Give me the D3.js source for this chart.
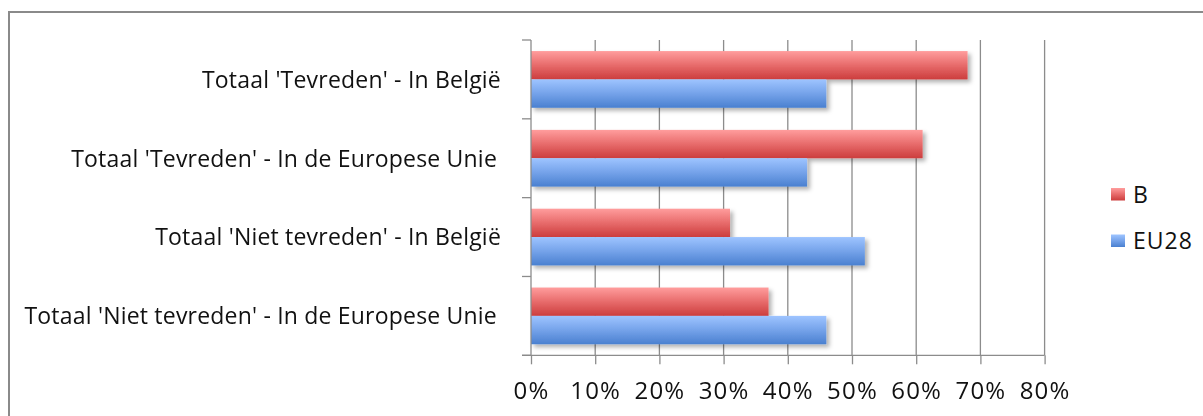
<!DOCTYPE html>
<html>
<head>
<meta charset="utf-8">
<script src="https://cdn.jsdelivr.net/npm/d3@7"></script>
<style>
  html, body { margin: 0; padding: 0; background: #fff; }
  svg { display: block; }
  text { font-family: "Open Sans", Lato, sans-serif; fill: #111; }
</style>
</head>
<body>
<script>
// Satisfaction figures, Belgium vs EU28
const categories = [
  "Totaal 'Tevreden' - In België",
  "Totaal 'Tevreden' - In de Europese Unie",
  "Totaal 'Niet tevreden' - In België",
  "Totaal 'Niet tevreden' - In de Europese Unie"
];
const seriesNames = ["B", "EU28"];
const valuesB    = [0.68, 0.61, 0.31, 0.37];
const valuesEU28 = [0.46, 0.43, 0.52, 0.46];
const xTicks = [0, 0.1, 0.2, 0.3, 0.4, 0.5, 0.6, 0.7, 0.8];

const W = 1203, H = 416;
const plot = { left: 531, right: 1044.6, top: 40, bottom: 355.3 };

const svg = d3.select("body").append("svg").attr("width", W).attr("height", H);
const defs = svg.append("defs");

// Glossy vertical gradients for the bars and legend keys
function grad(id, top, mid, bottom) {
  const g = defs.append("linearGradient").attr("id", id)
    .attr("x1", 0).attr("y1", 0).attr("x2", 0).attr("y2", 1);
  g.append("stop").attr("offset", "0%").attr("stop-color", top);
  g.append("stop").attr("offset", "45%").attr("stop-color", mid);
  g.append("stop").attr("offset", "100%").attr("stop-color", bottom);
}
grad("gB", "#ff9d9d", "#ea7070", "#cc3d3d");
grad("gEU", "#9ec4ff", "#79a6ec", "#4a80d0");

const shadow = defs.append("filter").attr("id", "shadow")
  .attr("x", "-5%").attr("y", "-30%").attr("width", "115%").attr("height", "180%");
shadow.append("feDropShadow").attr("dx", 3).attr("dy", 3)
  .attr("stdDeviation", 2.2).attr("flood-color", "#000").attr("flood-opacity", 0.3);

// Chart area frame
svg.append("rect").attr("x", 9).attr("y", 12).attr("width", W + 20).attr("height", H + 20)
  .attr("fill", "#fff").attr("stroke", "#8a8a8a").attr("stroke-width", 2);

const x = d3.scaleLinear().domain([0, 0.8]).range([plot.left, plot.right]);
const y = d3.scaleBand().domain(categories).range([plot.top, plot.bottom]).paddingInner(0).paddingOuter(0);
const sub = d3.scaleBand().domain(seriesNames).range([0, y.bandwidth()]).paddingOuter(0.39).paddingInner(0);

// Vertical gridlines
svg.append("g").selectAll("line").data(xTicks.slice(1)).join("line")
  .attr("x1", d => x(d)).attr("x2", d => x(d))
  .attr("y1", plot.top).attr("y2", plot.bottom)
  .attr("stroke", "#8c8c8c").attr("stroke-width", 1.3);

// Bars
const rows = categories.map((c, i) => ({ c, B: valuesB[i], EU28: valuesEU28[i] }));
const fills = { B: "url(#gB)", EU28: "url(#gEU)" };
svg.append("g").attr("filter", "url(#shadow)")
  .selectAll("g").data(rows).join("g")
  .attr("transform", d => `translate(0,${y(d.c)})`)
  .selectAll("rect").data(d => seriesNames.map(s => ({ s, v: d[s] }))).join("rect")
  .attr("x", x(0)).attr("y", d => sub(d.s))
  .attr("width", d => x(d.v) - x(0)).attr("height", sub.bandwidth())
  .attr("fill", d => fills[d.s]);

// Bottom axis
const xAxis = d3.axisBottom(x).tickValues(xTicks).tickFormat(d3.format(".0%"))
  .tickSize(9).tickPadding(18);
const gx = svg.append("g").attr("transform", `translate(0,${plot.bottom})`).call(xAxis);
gx.select(".domain").attr("stroke", "#8c8c8c").attr("stroke-width", 1.3)
  .attr("d", `M${plot.left - 9},0H${plot.right}`);
gx.selectAll(".tick line").attr("stroke", "#8c8c8c").attr("stroke-width", 1.3);
gx.selectAll(".tick text").style("font-size", "24px").style("letter-spacing", "1.2px")
  .attr("fill", "#111").style("font-family", "'Open Sans', Lato, sans-serif");

// Left axis: category boundaries as tick marks
const edges = d3.range(categories.length + 1).map(i => plot.top + i * y.bandwidth());
svg.append("line").attr("x1", plot.left).attr("x2", plot.left)
  .attr("y1", plot.top).attr("y2", plot.bottom).attr("stroke", "#8c8c8c").attr("stroke-width", 1.3);
svg.append("g").selectAll("line").data(edges).join("line")
  .attr("x1", plot.left - 9).attr("x2", plot.left).attr("y1", d => d).attr("y2", d => d)
  .attr("stroke", "#8c8c8c").attr("stroke-width", 1.3);

// Category labels
svg.append("g").selectAll("text").data(categories).join("text")
  .attr("x", (d, i) => i % 2 ? 497 : 501)
  .attr("y", d => y(d) + y.bandwidth() / 2)
  .attr("dy", "0.36em").attr("text-anchor", "end")
  .style("font-size", "23px").style("letter-spacing", "0.2px").text(d => d);

// Legend
const leg = svg.append("g").selectAll("g").data(seriesNames).join("g")
  .attr("transform", (d, i) => `translate(1111,${188 + i * 46.5})`);
leg.append("rect").attr("width", 14).attr("height", 12.5).attr("fill", d => fills[d]);
leg.append("text").attr("x", 22).attr("y", 6.5).attr("dy", "0.36em")
  .style("font-size", "23px").style("letter-spacing", "1px").text(d => d);
</script>
</body>
</html>
